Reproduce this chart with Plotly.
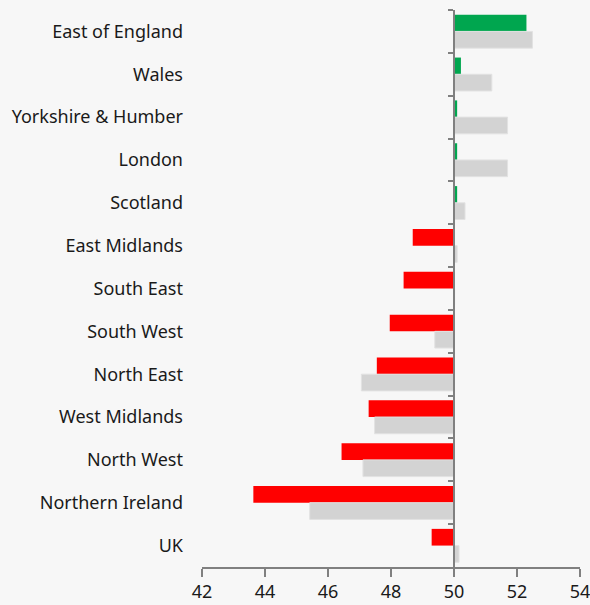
import plotly.graph_objects as go

categories = ["East of England", "Wales", "Yorkshire & Humber", "London", "Scotland",
              "East Midlands", "South East", "South West", "North East", "West Midlands",
              "North West", "Northern Ireland", "UK"]
current = [52.3, 50.22, 50.1, 50.1, 50.1, 48.69, 48.4, 47.96, 47.55, 47.29, 46.43, 43.63, 49.29]
previous = [52.49, 51.2, 51.7, 51.7, 50.35, 50.1, 50.02, 49.39, 47.06, 47.48, 47.11, 45.42, 50.16]
x_ticks = [42, 44, 46, 48, 50, 52, 54]
BASE = 50
X_MIN, X_MAX = 42, 54

GREEN = "#00a64f"
RED = "#ff0000"
GREY = "#d3d3d3"
FONT = "Noto Sans"

colors = [GREEN if v > BASE else RED for v in current]

fig = go.Figure()
fig.add_trace(go.Bar(
    y=categories, x=[v - BASE for v in current], base=BASE, orientation="h",
    marker=dict(color=colors, line=dict(width=0)), name="current",
))
fig.add_trace(go.Bar(
    y=categories, x=[v - BASE for v in previous], base=BASE, orientation="h",
    marker=dict(color=GREY, line=dict(color="#e2e2e2", width=1)), name="previous",
))
# invisible trace to carry the centre axis at the base value
fig.add_trace(go.Scatter(
    y=categories, x=[BASE] * len(categories), yaxis="y2", mode="markers",
    marker=dict(opacity=0), hoverinfo="skip", showlegend=False,
))

n = len(categories)
pos = (BASE - X_MIN) / (X_MAX - X_MIN)

fig.update_layout(
    width=590, height=605,
    margin=dict(l=202, r=10, t=10, b=38, autoexpand=False),
    paper_bgcolor="#f7f7f7", plot_bgcolor="#f7f7f7",
    barmode="group", bargap=0.22, bargroupgap=0.0,
    showlegend=False,
    font=dict(family=FONT, size=18, color="#1a1a1a"),
    xaxis=dict(
        range=[X_MIN, X_MAX], tickvals=x_ticks, showgrid=False, zeroline=False,
        showline=True, linecolor="#808080", linewidth=1.5,
        ticks="outside", ticklen=8, tickcolor="#808080", tickwidth=1.5,
        tickfont=dict(size=18), fixedrange=True, automargin=False,
        ticklabeloverflow="allow",
    ),
    yaxis=dict(
        type="category", categoryorder="array", categoryarray=categories,
        range=[n - 0.5, -0.5], showgrid=False, zeroline=False, showline=False,
        ticks="", ticklabelstandoff=18, tickfont=dict(size=18), automargin=False,
    ),
    yaxis2=dict(
        type="category", categoryorder="array", categoryarray=categories,
        range=[n - 0.5, -0.5], overlaying="y", anchor="free", position=pos,
        side="left", showticklabels=False, showgrid=False, zeroline=False,
        showline=True, linecolor="#808080", linewidth=2, automargin=False,
        ticks="outside", tickson="boundaries", ticklen=5, tickcolor="#808080", tickwidth=2,
    ),
)

fig.write_html("out.html", config={"displayModeBar": False},
               post_script="document.body.style.margin='0px';")
